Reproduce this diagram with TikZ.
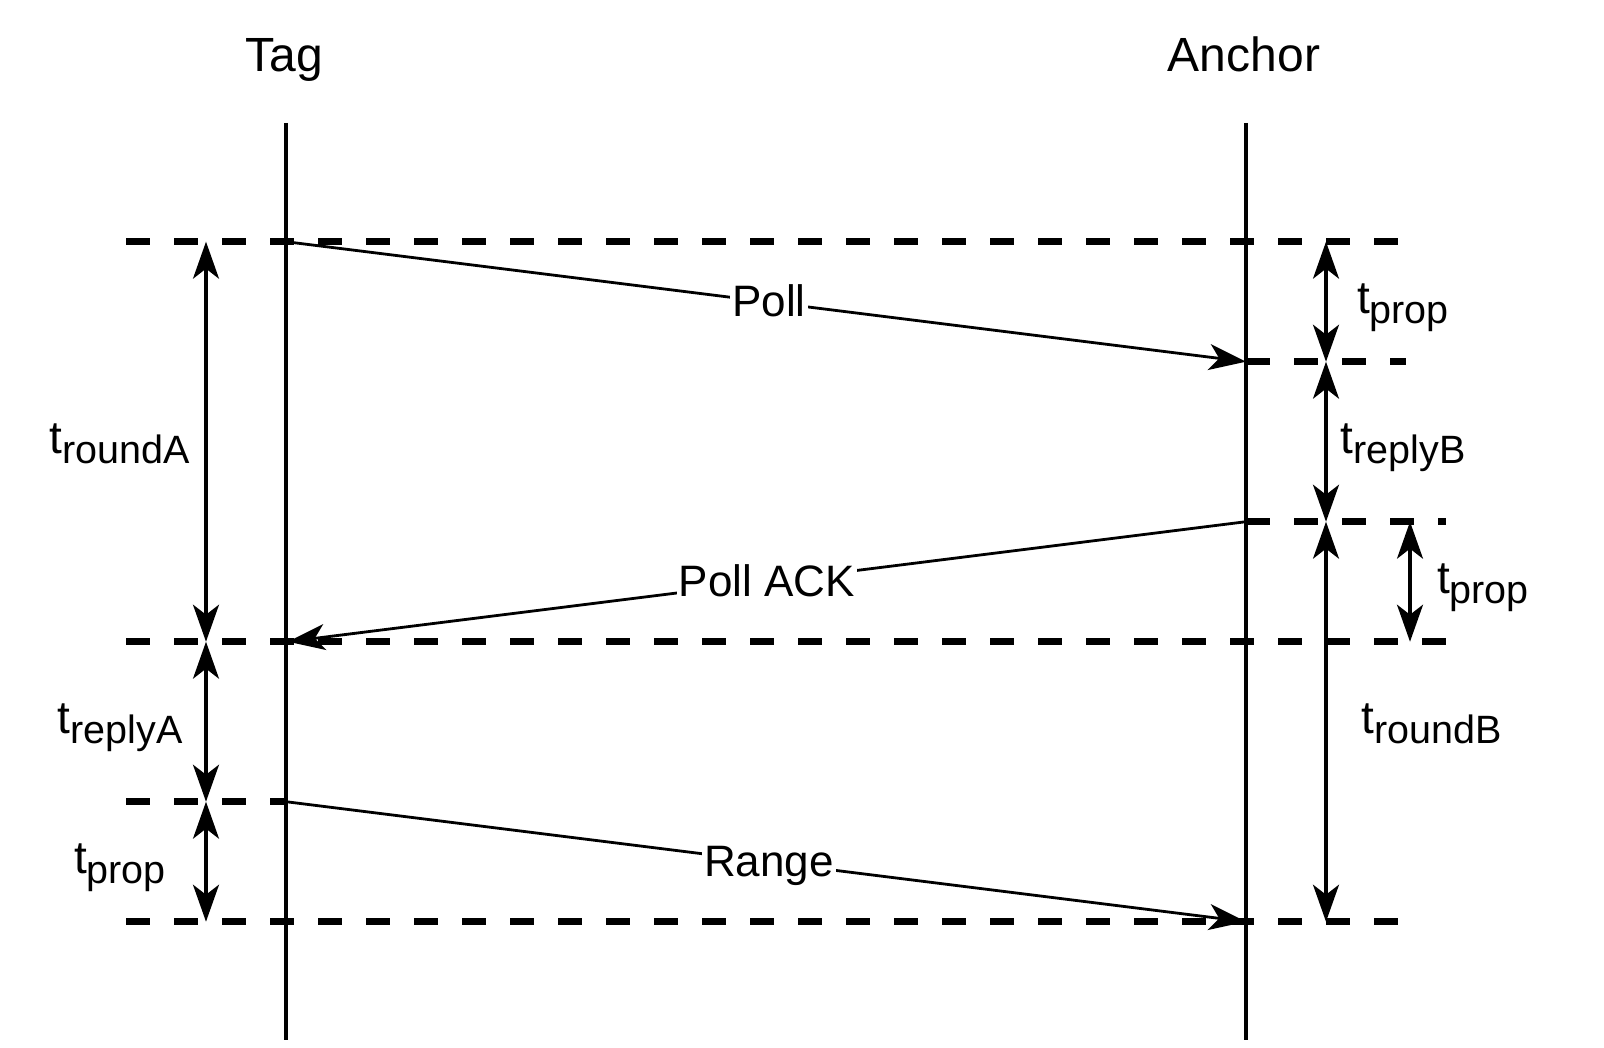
\documentclass[tikz,border=0pt]{standalone}
\usepackage{fontspec}
\setmainfont{Liberation Sans}
\usetikzlibrary{arrows.meta}
\newcommand{\mytsub}[1]{{\fontsize{46}{52}\selectfont t}\raisebox{-10.5pt}{\fontsize{39.5}{46}\selectfont #1}}
\tikzset{
  myhead/.tip={Stealth[length=37pt,width=26pt,inset=10pt]},
  lifeline/.style={line width=3.5pt},
  levelline/.style={line width=7pt, dash pattern=on 24pt off 24pt},
  msg/.style={line width=2.8pt, -{myhead}},
  span/.style={line width=3.2pt, {myhead}-{myhead}},
  headtext/.style={font=\fontsize{48}{56}\selectfont, anchor=base, inner sep=0pt},
  elabel/.style={fill=white, inner sep=2pt, anchor=base, yshift=-15pt, font=\fontsize{44}{50}\selectfont},
  tlabel/.style={anchor=base, inner sep=0pt},
}
\begin{document}
\begin{tikzpicture}[x=1pt,y=-1pt]
\useasboundingbox (0,0) rectangle (1604,1048);

% headers
\node[headtext] (tag) at (284,72) {Tag};
\node[headtext] (anchor) at (1244,72) {Anchor};

% lifelines
\coordinate (tagtop) at (286,123);
\coordinate (tagbot) at (286,1040);
\coordinate (anctop) at (1246,123);
\coordinate (ancbot) at (1246,1040);
\draw[lifeline] (tagtop) -- (tagbot);
\draw[lifeline] (anctop) -- (ancbot);

% level lines
\coordinate (L1a) at (126,241.7);  \coordinate (L1b) at (1398,241.7);
\coordinate (L2a) at (1246,361.7); \coordinate (L2b) at (1406,361.7);
\coordinate (L3a) at (1246,521.7); \coordinate (L3b) at (1446,521.7);
\coordinate (L4a) at (126,641.7);  \coordinate (L4b) at (1446,641.7);
\coordinate (L5a) at (126,801.7);  \coordinate (L5b) at (286,801.7);
\coordinate (L6a) at (126,921.7);  \coordinate (L6b) at (1398,921.7);
\draw[levelline] (L1a) -- (L1b);
\draw[levelline] (L2a) -- (L2b);
\draw[levelline] (L3a) -- (L3b);
\draw[levelline] (L4a) -- (L4b);
\draw[levelline] (L5a) -- (L5b);
\draw[levelline] (L6a) -- (L6b);

% messages
\coordinate (P1) at (286,241.7);  \coordinate (P2) at (1246,361.7);
\coordinate (A1) at (1246,521.7); \coordinate (A2) at (288,641.7);
\coordinate (R1) at (286,801.7);  \coordinate (R2) at (1246,921.7);
\draw[msg] (P1) -- node[elabel, xshift=3pt] (poll) {Poll} (P2);
\draw[msg] (A1) -- node[elabel] (pollack) {Poll ACK} (A2);
\draw[msg] (R1) -- node[elabel, xshift=3pt] (range) {Range} (R2);

% left spans
\coordinate (la1) at (206,241.7);
\coordinate (la4) at (206,641.7);
\coordinate (la5) at (206,801.7);
\coordinate (la6) at (206,921.7);
\draw[span] (la4) -- (la1);
\draw[span] (la5) -- (la4);
\draw[span] (la6) -- (la5);

% right spans
\coordinate (rb1) at (1326,241.7);
\coordinate (rb2) at (1326,361.7);
\coordinate (rb3) at (1326,521.7);
\coordinate (rb6) at (1326,921.7);
\coordinate (rc3) at (1410,521.7);
\coordinate (rc4) at (1410,641.7);
\draw[span] (rb2) -- (rb1);
\draw[span] (rb3) -- (rb2);
\draw[span] (rb6) -- (rb3);
\draw[span] (rc4) -- (rc3);

% span labels
\node[tlabel] (troundA) at (120,453.3) {\mytsub{roundA}};
\node[tlabel] (treplyA) at (120,733.3) {\mytsub{replyA}};
\node[tlabel] (tpropL) at (120,873.3) {\mytsub{prop}};
\node[tlabel] (tpropR1) at (1403,313.3) {\mytsub{prop}};
\node[tlabel] (treplyB) at (1403,453.3) {\mytsub{replyB}};
\node[tlabel] (tpropR2) at (1483,593.3) {\mytsub{prop}};
\node[tlabel] (troundB) at (1432,733.3) {\mytsub{roundB}};
\end{tikzpicture}
\end{document}
